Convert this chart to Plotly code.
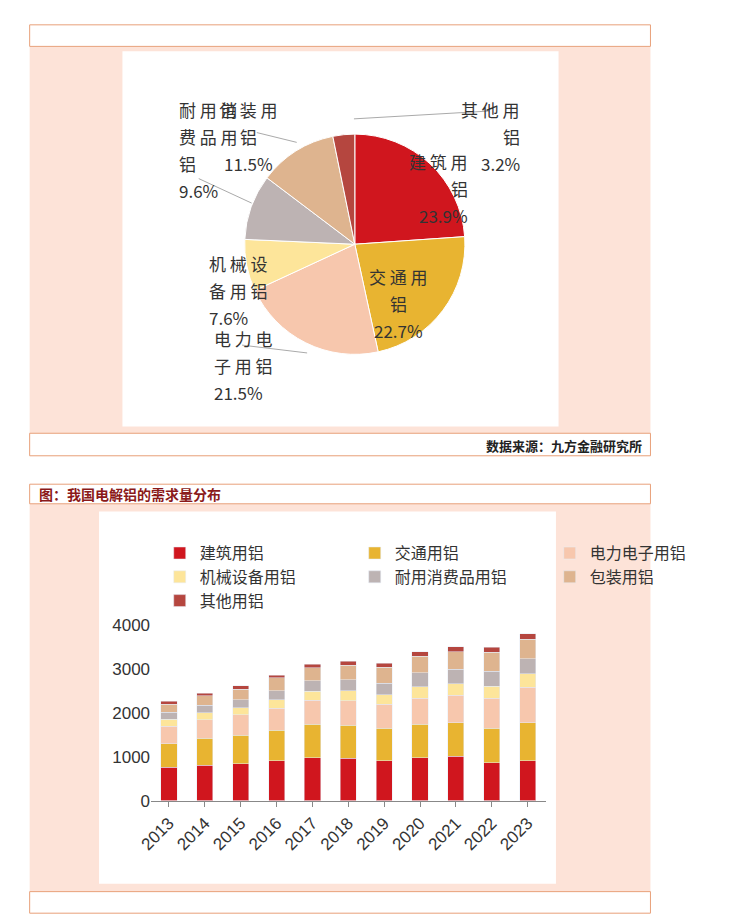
import plotly.graph_objects as go

W, H = 737, 924
font_family = 'Noto Sans CJK SC'

# pie data
pie_labels = ['建筑用铝', '交通用铝', '电力电子用铝', '机械设备用铝', '耐用消费品用铝', '包装用铝', '其他用铝']
pie_values = [23.9, 22.7, 21.5, 7.6, 9.6, 11.5, 3.2]
colors = ['#d0161e', '#e8b431', '#f7c7ad', '#fde59a', '#bdb3b3', '#deb48f', '#b5463f']

# bar data
years = ['2013', '2014', '2015', '2016', '2017', '2018', '2019', '2020', '2021', '2022', '2023']
jianzhu = [760, 810, 840, 910, 980, 960, 910, 980, 1010, 860, 910]
jiaotong = [540, 610, 650, 690, 760, 760, 740, 760, 760, 790, 860]
dianli = [390, 420, 470, 510, 550, 560, 550, 590, 630, 680, 810]
jixie = [160, 160, 160, 190, 200, 220, 210, 270, 270, 280, 310]
naiyong = [170, 180, 180, 210, 240, 260, 270, 320, 330, 340, 350]
baozhuang = [180, 210, 240, 290, 300, 330, 360, 370, 400, 430, 440]
qita = [60, 60, 80, 60, 80, 90, 90, 100, 110, 120, 130]
bar_series = [jianzhu, jiaotong, dianli, jixie, naiyong, baozhuang, qita]


def px(x):
    return x / W


def py(y):
    return 1 - y / H


fig = go.Figure()

fig.add_trace(go.Pie(
    labels=pie_labels, values=pie_values, sort=False, direction='clockwise', rotation=0,
    marker=dict(colors=colors, line=dict(color='white', width=1)),
    textinfo='none', hoverinfo='label+percent', showlegend=False,
    domain=dict(x=[px(258), px(512)], y=[py(359), py(105)]),
))

for name, vals, c in zip(pie_labels, bar_series, colors):
    fig.add_trace(go.Bar(x=years, y=vals, name=name, marker_color=c, width=0.45))

fig.update_layout(
    width=W, height=H, margin=dict(l=0, r=0, t=0, b=0),
    paper_bgcolor='white', plot_bgcolor='rgba(0,0,0,0)', barmode='stack',
    font=dict(family=font_family, color='#333333'),
    xaxis=dict(domain=[px(150), px(605)], anchor='y', showline=True, linecolor='#888888',
               ticks='outside', ticklen=5, tickcolor='#888888', tickangle=-45,
               tickfont=dict(size=17, family='Liberation Sans', color='#333333')),
    yaxis=dict(domain=[py(800), py(621)], anchor='x', range=[0, 4000], dtick=1000,
               showgrid=False, zeroline=False,
               tickfont=dict(size=17, family='Liberation Sans', color='#333333')),
    legend=dict(orientation='h', x=px(160), y=py(530), xanchor='left', yanchor='top',
                entrywidth=150, entrywidthmode='pixels', font=dict(size=16, color='#333333'),
                traceorder='normal', itemwidth=30, bgcolor='rgba(0,0,0,0)'),
)

peach = '#fde3d8'
line = '#e8a07a'
rects = [
    (10, 726, 30, 448, peach, None),
    (117, 620, 35, 418, 'white', None),
    (10, 726, 425, 448, 'white', line),
    (10, 726, 8, 30, 'white', line),
    (10, 726, 497, 915, peach, None),
    (90, 617, 505, 885, 'white', None),
    (10, 726, 477, 497, 'white', line),
    (10, 726, 893, 915, 'white', line),
]
for x0, x1, y0, y1, fc, lc in rects:
    fig.add_shape(type='rect', xref='paper', yref='paper', x0=px(x0), x1=px(x1), y0=py(y1), y1=py(y0),
                  fillcolor=fc, line=dict(color=lc or fc, width=1 if lc else 0), layer='below')

# pie labels: lines, x, first line y
pie_text = [
    (['建 筑 用', '铝', '23.9%'], 518, 133),
    (['交 通 用', '铝', '22.7%'], 435, 250),
    (['电 力 电', '子 用 铝', '21.5%'], 220, 328),
    (['机 械 设', '备 用 铝', '7.6%'], 215, 237),
    (['耐 用 消', '费 品 用', '铝', '9.6%'], 180, 80),
    (['包 装 用', '铝', '11.5%'], 262, 80),
    (['其 他 用', '铝', '3.2%'], 578, 80),
]
for lines, x, y in pie_text:
    for k, s in enumerate(lines):
        fig.add_annotation(text=s, x=px(x), y=py(y + 27.5 * k), xref='paper', yref='paper', showarrow=False,
                           font=dict(size=17, color='#333333', family=font_family))

leaders = [(540, 96, 384, 104), (205, 165, 266, 190), (272, 118, 318, 128), (255, 335, 330, 343)]
for x0, y0, x1, y1 in leaders:
    fig.add_shape(type='line', xref='paper', yref='paper', x0=px(x0), y0=py(y0), x1=px(x1), y1=py(y1),
                  line=dict(color='#aaaaaa', width=1))

fig.add_annotation(text='<b>数据来源：九方金融研究所</b>', x=px(718), y=py(437), xref='paper', yref='paper',
                   xanchor='right', showarrow=False, font=dict(size=13, color='#222222'))
fig.add_annotation(text='<b>图：我国电解铝的需求量分布</b>', x=px(18), y=py(487), xref='paper', yref='paper',
                   xanchor='left', showarrow=False, font=dict(size=14, color='#8b1a1a'))

fig.write_html('out.html')
